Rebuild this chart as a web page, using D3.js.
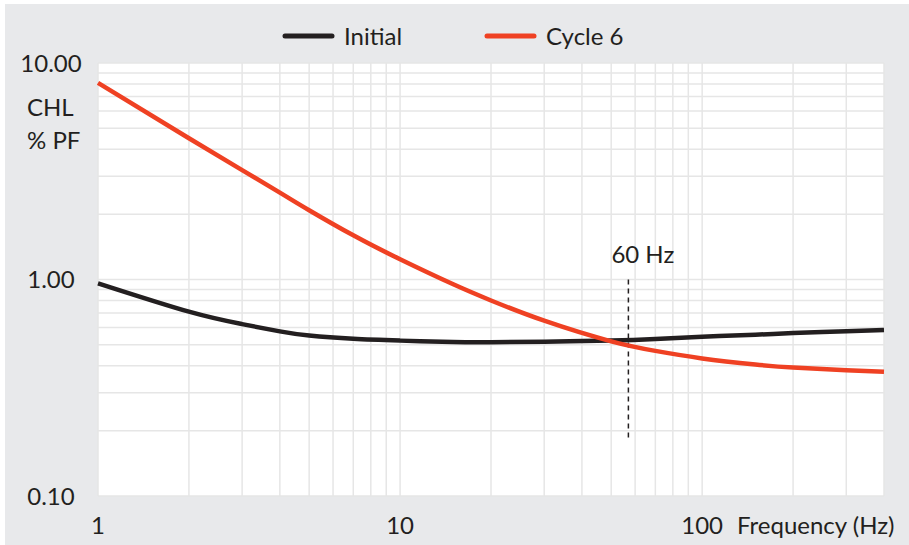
<!DOCTYPE html>
<meta charset="utf-8">
<script src="https://cdn.jsdelivr.net/npm/d3@7"></script>
<style>
body { margin: 0; background: #fff; }
text { font-family: Lato, "Open Sans", sans-serif; fill: #231f20; font-size: 24px; }
.grid line { stroke: #e6e6e6; stroke-width: 1.5px; }
.curve { fill: none; stroke-width: 4.5px; stroke-linecap: butt; }
</style>
<body>
<script>

// frequency (Hz) and loss values
var freqs = [1, 2, 3, 4, 5, 7, 10, 15, 20, 30, 50, 70, 100, 150, 200, 300, 400];
var initial = [0.96, 0.71, 0.622, 0.576, 0.551, 0.532, 0.522, 0.514, 0.513, 0.516, 0.522, 0.531, 0.544, 0.556, 0.566, 0.577, 0.585];
var cycle6 = [8.1, 4.49, 3.2, 2.52, 2.09, 1.6, 1.24, 0.95, 0.8, 0.645, 0.518, 0.468, 0.432, 0.405, 0.392, 0.381, 0.375];

var seriesNames = ["Initial", "Cycle 6"];
var seriesColors = ["#231f20", "#ef4123"];

var yTicks = [10, 1, 0.1];
var yTickLabels = ["10.00", "1.00", "0.10"];
var xTicks = [1, 10, 100];
var xTickLabels = ["1", "10", "100"];

var markerFreq = 57;       // where the dashed "60 Hz" line sits
var markerRange = [1.0, 0.185];
var markerLabel = "60 Hz";

var W = 909, H = 545;
var plot = {left: 98, right: 884, top: 63, bottom: 496};

var svg = d3.select("body").append("svg")
  .attr("width", W)
  .attr("height", H);

svg.append("rect")
  .attr("x", 5).attr("y", 4)
  .attr("width", W - 5).attr("height", H - 4)
  .attr("fill", "#e8e9eb");

svg.append("rect")
  .attr("x", plot.left).attr("y", plot.top)
  .attr("width", plot.right - plot.left).attr("height", plot.bottom - plot.top)
  .attr("fill", "#fff");

var x = d3.scaleLog().domain([1, 400]).range([plot.left, plot.right]);
var y = d3.scaleLog().domain([0.1, 10]).range([plot.bottom, plot.top]);

// minor grid: 1..9 times each power of ten
var xGrid = [], yGrid = [];
[1, 10, 100].forEach(function(p) {
  for (var k = 1; k < 10; k++) if (k * p <= 400) xGrid.push(k * p);
});
[0.1, 1].forEach(function(p) {
  for (var k = 1; k < 10; k++) yGrid.push(k * p);
});
yGrid.push(10);

var grid = svg.append("g").attr("class", "grid");
grid.selectAll(".v").data(xGrid).enter().append("line")
  .attr("class", "v")
  .attr("x1", function(d) { return x(d); })
  .attr("x2", function(d) { return x(d); })
  .attr("y1", plot.top).attr("y2", plot.bottom);
grid.selectAll(".h").data(yGrid).enter().append("line")
  .attr("class", "h")
  .attr("y1", function(d) { return y(d); })
  .attr("y2", function(d) { return y(d); })
  .attr("x1", plot.left).attr("x2", plot.right);

// y labels
svg.selectAll(".ylab").data(yTicks).enter().append("text")
  .attr("class", "ylab")
  .attr("x", 51)
  .attr("y", function(d) { return y(d); })
  .attr("dy", "0.36em")
  .attr("text-anchor", "middle")
  .text(function(d, i) { return yTickLabels[i]; });

// x labels
svg.selectAll(".xlab").data(xTicks).enter().append("text")
  .attr("class", "xlab")
  .attr("x", function(d) { return x(d); })
  .attr("y", 534)
  .attr("text-anchor", "middle")
  .text(function(d, i) { return xTickLabels[i]; });

svg.append("text")
  .attr("x", 737).attr("y", 534)
  .text("Frequency (Hz)");

svg.append("text")
  .attr("x", 27).attr("y", 116)
  .text("CHL");
svg.append("text")
  .attr("x", 27).attr("y", 149)
  .text("% PF");

// 60 Hz marker
svg.append("line")
  .attr("x1", x(markerFreq)).attr("x2", x(markerFreq))
  .attr("y1", y(markerRange[0])).attr("y2", y(markerRange[1]))
  .attr("stroke", "#231f20")
  .attr("stroke-width", 1.5)
  .attr("stroke-dasharray", "5,4");

svg.append("text")
  .attr("x", x(markerFreq) - 17).attr("y", 263)
  .text(markerLabel);

var line = d3.line()
  .x(function(d) { return x(d[0]); })
  .y(function(d) { return y(d[1]); })
  .curve(d3.curveNatural);

[initial, cycle6].forEach(function(vals, i) {
  svg.append("path")
    .attr("class", "curve")
    .attr("stroke", seriesColors[i])
    .attr("d", line(freqs.map(function(f, j) { return [f, vals[j]]; })));
});

// legend
var legendX = [285, 487];
var leg = svg.selectAll(".leg").data(seriesNames).enter().append("g")
  .attr("class", "leg")
  .attr("transform", function(d, i) { return "translate(" + legendX[i] + ",36)"; });
leg.append("line")
  .attr("x1", 0).attr("x2", 47)
  .attr("stroke", function(d, i) { return seriesColors[i]; })
  .attr("stroke-width", 5)
  .attr("stroke-linecap", "round");
leg.append("text")
  .attr("x", 59).attr("y", 9)
  .text(function(d) { return d; });

</script>
</body>
